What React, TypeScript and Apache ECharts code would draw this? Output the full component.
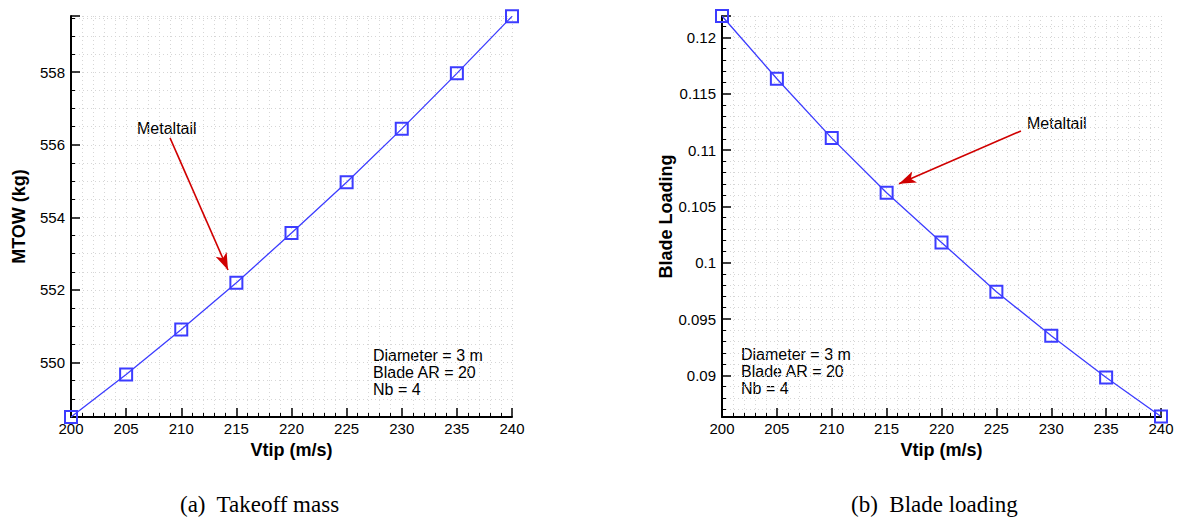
import React, { useEffect, useRef } from "react";
import * as echarts from "echarts";

const vtip = [200, 205, 210, 215, 220, 225, 230, 235, 240];
const mtow = [548.5, 549.67, 550.91, 552.2, 553.57, 554.97, 556.44, 557.97, 559.54];
const bladeLoading = [0.1219, 0.11633, 0.11106, 0.10621, 0.1018, 0.09742, 0.09352, 0.0898, 0.08635];
const xTitle = "Vtip (m/s)";
const yTitleLeft = "MTOW (kg)";
const yTitleRight = "Blade Loading";
const paramText = ["Diameter = 3 m", "Blade AR = 20", "Nb = 4"];
const annotation = "Metaltail";
const arrowLeft = [[208.98, 556.19], [214.24, 552.55]];
const arrowRight = [[227.24, 0.1117], [216.13, 0.107]];
const captions = ["(a)  Takeoff mass", "(b)  Blade loading"];

const FONT = "'Liberation Sans', Arial, Helvetica, sans-serif";
const SERIF = "'Liberation Serif', 'Times New Roman', serif";
const BLUE = "#3c3cff";
const GRIDC = "#d6d6d6";

function xAxis(gridIndex: number) {
  return {
    type: "value",
    gridIndex,
    min: 200,
    max: 240,
    interval: 5,
    name: xTitle,
    nameLocation: "middle",
    nameGap: 18,
    nameTextStyle: { fontFamily: FONT, fontSize: 18, fontWeight: "bold", color: "#000" },
    axisLine: { show: true, onZero: false, lineStyle: { color: "#000", width: 2 } },
    axisTick: { show: true, inside: true, length: 9, lineStyle: { color: "#000", width: 1.5 } },
    minorTick: { show: true, splitNumber: 5, length: 4, lineStyle: { color: "#000", width: 1 } },
    axisLabel: { fontFamily: FONT, fontSize: 15, color: "#000", margin: 4 },
    splitLine: { show: true, lineStyle: { color: GRIDC, type: [1, 3], width: 1 } },
    minorSplitLine: { show: true, lineStyle: { color: GRIDC, type: [1, 3], width: 1 } },
  };
}

function yAxis(gridIndex: number, opts: any) {
  return {
    type: "value",
    gridIndex,
    nameLocation: "middle",
    nameGap: 43,
    nameTextStyle: { fontFamily: FONT, fontSize: 18, fontWeight: "bold", color: "#000" },
    axisLine: { show: true, onZero: false, lineStyle: { color: "#000", width: 2 } },
    axisTick: { show: true, inside: true, length: 9, lineStyle: { color: "#000", width: 1.5 } },
    axisLabel: { fontFamily: FONT, fontSize: 15, color: "#000", margin: 6, showMinLabel: false, showMaxLabel: false },
    splitLine: { show: true, lineStyle: { color: GRIDC, type: [1, 3], width: 1 } },
    minorSplitLine: { show: true, lineStyle: { color: GRIDC, type: [1, 3], width: 1 } },
    ...opts,
  };
}

function lineSeries(idx: number, values: number[], arrow: number[][]) {
  return {
    type: "line",
    xAxisIndex: idx,
    yAxisIndex: idx,
    data: vtip.map((x, i) => [x, values[i]]),
    clip: false,
    symbol: "rect",
    symbolSize: 12,
    showAllSymbol: true,
    lineStyle: { color: BLUE, width: 1.3 },
    itemStyle: { color: "rgba(255,255,255,0)", borderColor: BLUE, borderWidth: 2 },
    markLine: {
      silent: true,
      symbol: ["none", "arrow"],
      symbolSize: [9, 17],
      label: { show: false },
      lineStyle: { color: "#d00000", width: 1.6, type: "solid" },
      data: [[{ coord: arrow[0] }, { coord: arrow[1] }]],
    },
  };
}

function textEl(text: string, x: number, y: number, font: string, extra: any = {}) {
  return {
    type: "text",
    x,
    y,
    style: { text, font, fill: "#000", ...extra },
  };
}

export default function App() {
  const ref = useRef<HTMLDivElement>(null);
  useEffect(() => {
    const chart = echarts.init(ref.current!, null, { renderer: "svg" });
    chart.setOption({
      animation: false,
      backgroundColor: "#fff",
      grid: [
        { left: 71, top: 16, width: 441, height: 401 },
        { left: 722, top: 16, width: 439, height: 401 },
      ],
      xAxis: [xAxis(0), xAxis(1)],
      yAxis: [
        yAxis(0, {
          name: yTitleLeft,
          min: 548.5,
          max: 559.55,
          splitNumber: 5,
          minInterval: 2,
          maxInterval: 2,
          minorTick: { show: true, splitNumber: 4, length: 4, lineStyle: { color: "#000", width: 1 } },
        }),
        yAxis(1, {
          name: yTitleRight,
          min: 0.0863,
          max: 0.1219,
          splitNumber: 7,
          minInterval: 0.005,
          maxInterval: 0.005,
          minorTick: { show: true, splitNumber: 5, length: 4, lineStyle: { color: "#000", width: 1 } },
          axisLabel: {
            fontFamily: FONT, fontSize: 15, color: "#000", margin: 6, showMinLabel: false, showMaxLabel: false,
            formatter: (v: number) => String(+v.toFixed(4)),
          },
        }),
      ],
      series: [lineSeries(0, mtow, arrowLeft), lineSeries(1, bladeLoading, arrowRight)],
      graphic: [
        textEl(annotation, 137, 120, `16px ${FONT}`),
        textEl(annotation, 1027, 115, `16px ${FONT}`),
        textEl(paramText.join("\n"), 373, 347, `16px ${FONT}`, { lineHeight: 17 }),
        textEl(paramText.join("\n"), 741, 346, `16px ${FONT}`, { lineHeight: 17 }),
        textEl(captions[0], 180, 493, `23px ${SERIF}`),
        textEl(captions[1], 851, 493, `23px ${SERIF}`),
      ],
    });
    return () => chart.dispose();
  }, []);
  return (
    <div
      ref={ref}
      style={{ position: "absolute", left: 0, top: 0, width: 1178, height: 519 }}
    />
  );
}
